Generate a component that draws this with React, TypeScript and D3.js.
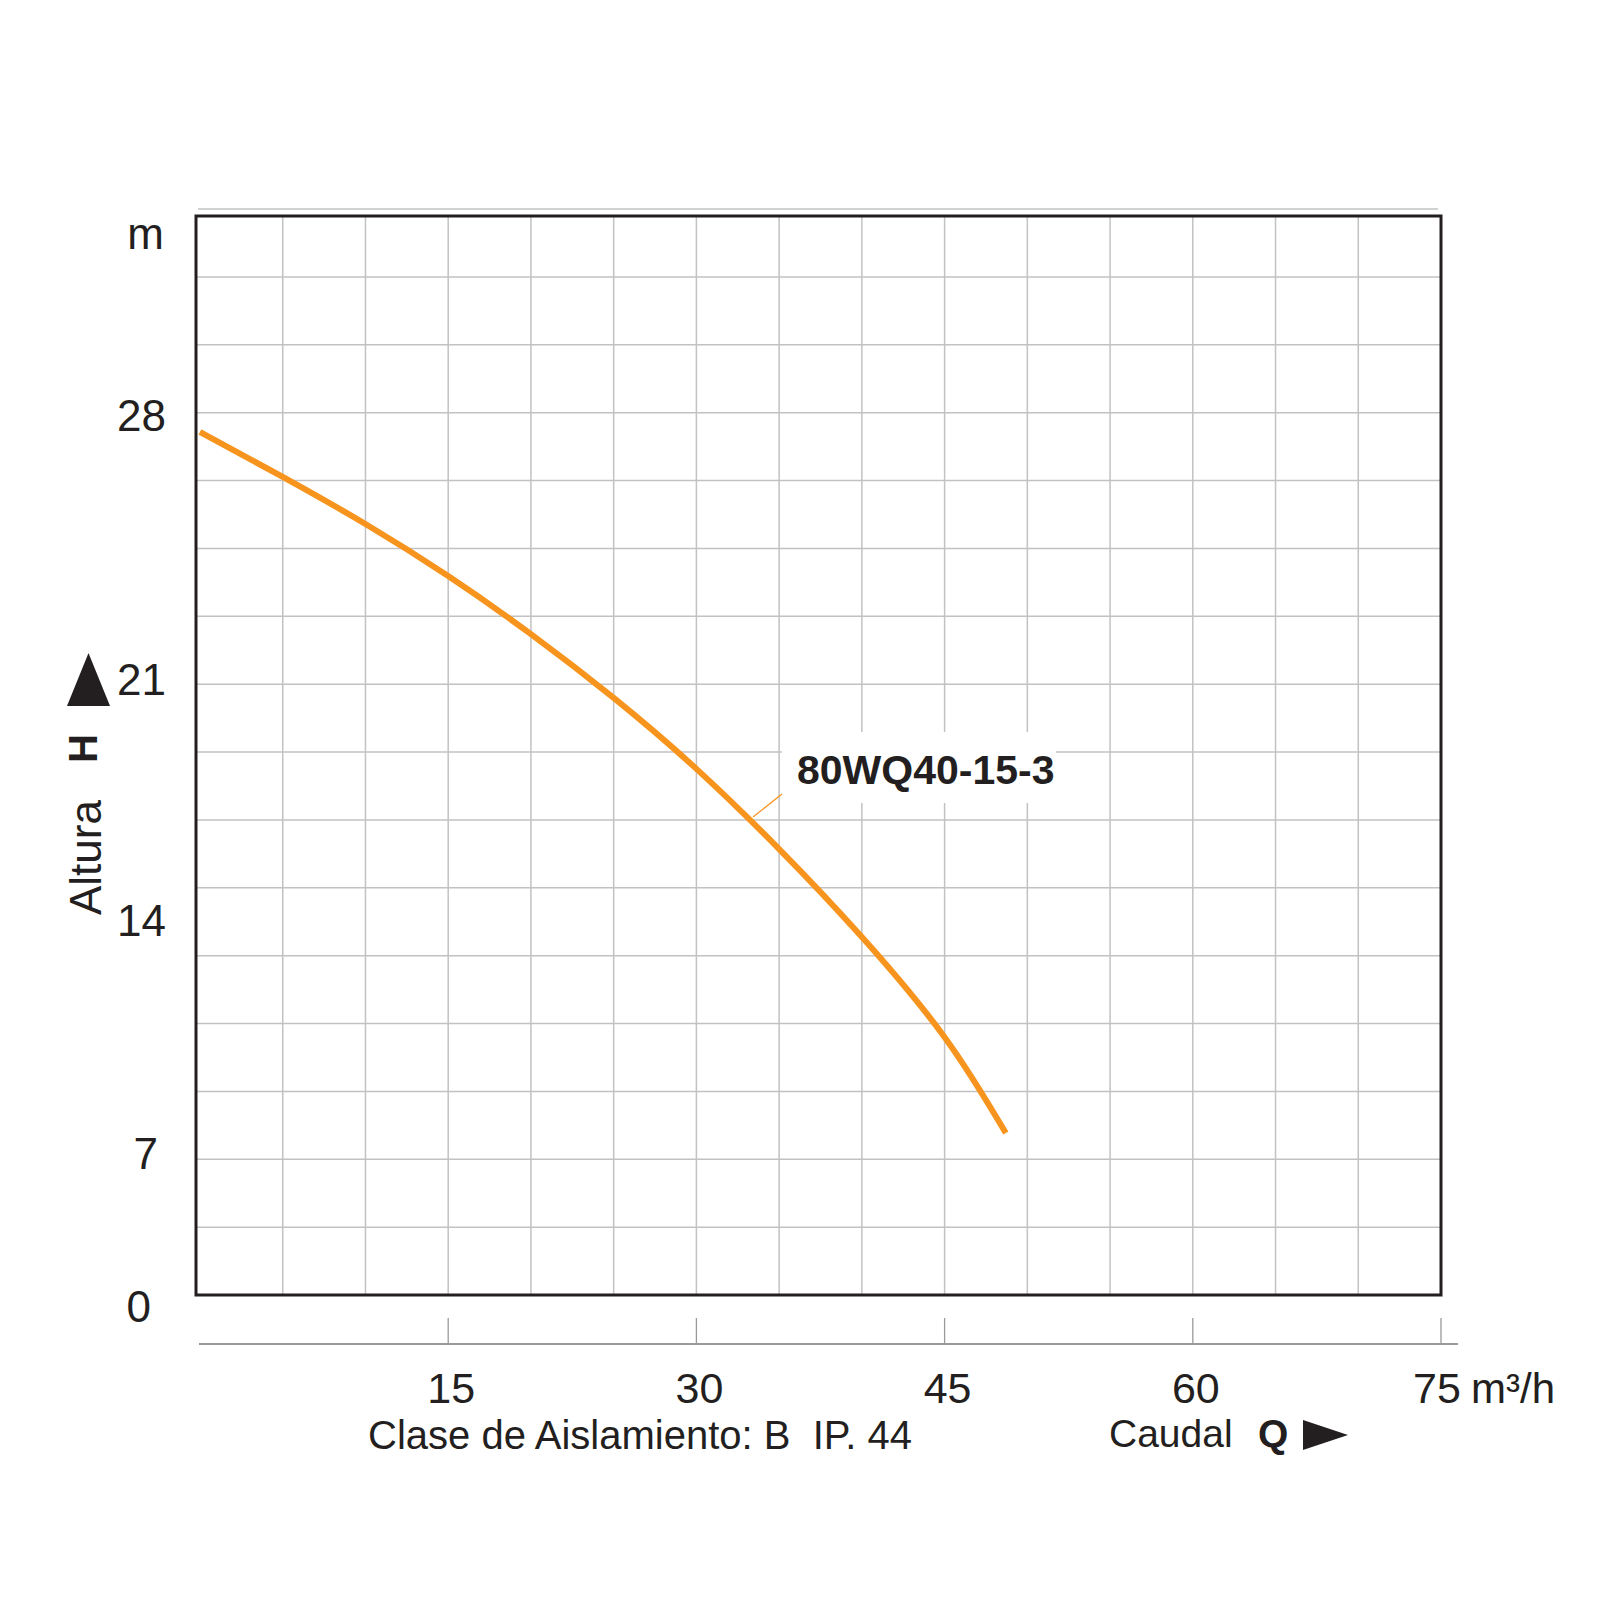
import React from "react";
import * as d3 from "d3";

// ---- data ----
const flowQ = [0, 5, 10, 15, 20, 25, 30, 35, 40, 45, 48.7];
const headH = [27.55, 26.36, 25.11, 23.73, 22.19, 20.45, 18.39, 16.06, 13.49, 10.48, 7.6];
const xTicks = [15, 30, 45, 60, 75];
const yTicks = [0, 7, 14, 21, 28];
const xGrid = d3.range(5, 75, 5);
const yGridCount = 16;
const seriesName = "80WQ40-15-3";

const FONT = "'Liberation Sans', Arial, Helvetica, sans-serif";
const INK = "#231f20";
const ORANGE = "#f7941d";
const GRID = "#c2c2c2";

export default function App() {
  const box = { left: 196, right: 1441, top: 216, bottom: 1295 };
  const x = d3.scaleLinear().domain([0, 75]).range([200, 1441]);
  const grid = d3.scaleLinear().domain([0, yGridCount]).range([1295, 209]);
  // the printed head labels are not evenly spaced; use a piecewise scale through them
  const y = d3.scaleLinear().domain([0, 7, 14, 21, 28]).range([1306, 1153, 920, 679, 415]);

  const pts: [number, number][] = flowQ.map((q, i) => [x(q), y(headH[i])]);
  const line = d3.line().curve(d3.curveNatural)(pts) || "";

  const yLabelShift = (v: number) => (v === 0 ? -15 : v === 7 ? -8 : 0);

  return (
    <div style={{ position: "absolute", left: 0, top: 0 }}>
      <svg width={1600} height={1600} style={{ display: "block", background: "#fff" }} fontFamily={FONT}>
        {/* top thin line */}
        <line x1={198} x2={1438} y1={grid(16)} y2={grid(16)} stroke={GRID} strokeWidth={1.6} />
        {/* grid */}
        {xGrid.map((v) => (
          <line key={"vx" + v} x1={x(v)} x2={x(v)} y1={box.top} y2={box.bottom} stroke={GRID} strokeWidth={1.5} />
        ))}
        {d3.range(1, yGridCount).map((k) => (
          <line key={"hy" + k} x1={box.left} x2={box.right} y1={grid(k)} y2={grid(k)} stroke={GRID} strokeWidth={1.5} />
        ))}
        {/* label background */}
        <rect x={782} y={732} width={274} height={71} fill="#fff" />
        {/* frame */}
        <rect x={box.left} y={box.top} width={box.right - box.left} height={box.bottom - box.top} fill="none" stroke={INK} strokeWidth={3} />

        {/* curve */}
        <path d={line} fill="none" stroke={ORANGE} strokeWidth={6} strokeLinejoin="round" />
        <line x1={753} y1={817} x2={782} y2={794} stroke={ORANGE} strokeWidth={1.3} />
        <text x={797} y={784} fontSize={41} fontWeight="bold" fill={INK}>{seriesName}</text>

        {/* y axis labels */}
        {yTicks.map((v) => (
          <text key={"yt" + v} x={166 + yLabelShift(v)} y={y(v)} dy="0.36em" textAnchor="end" fontSize={44} fill={INK}>{v}</text>
        ))}
        <text x={164} y={249} textAnchor="end" fontSize={44} fill={INK}>m</text>
        <text transform="translate(101,915) rotate(-90)" fontSize={44} fill={INK}>Altura</text>
        <text transform="translate(97,763) rotate(-90)" fontSize={40} fontWeight="bold" fill={INK}>H</text>
        <path d="M67,706 L88.5,653 L110,706 Z" fill={INK} />

        {/* x axis */}
        <line x1={199} x2={1458} y1={1344} y2={1344} stroke="#9a9a9a" strokeWidth={2} />
        {xTicks.map((v) => (
          <g key={"xt" + v}>
            <line x1={x(v)} x2={x(v)} y1={1318} y2={1344} stroke="#9a9a9a" strokeWidth={1.3} />
            <text x={x(v) + (v === 75 ? -4 : 3)} y={1403} textAnchor="middle" fontSize={43} fill={INK}>{v}</text>
          </g>
        ))}
        <text x={1471} y={1403} fontSize={42} fill={INK}>m³/h</text>
        <text x={368} y={1449} fontSize={40} fill={INK} style={{ whiteSpace: "pre" }}>Clase de Aislamiento: B  IP. 44</text>
        <text x={1109} y={1447} fontSize={39} fill={INK}>Caudal</text>
        <text x={1258} y={1447} fontSize={39} fontWeight="bold" fill={INK}>Q</text>
        <path d="M1303,1420 L1348,1435 L1303,1450 Z" fill={INK} />
      </svg>
    </div>
  );
}
